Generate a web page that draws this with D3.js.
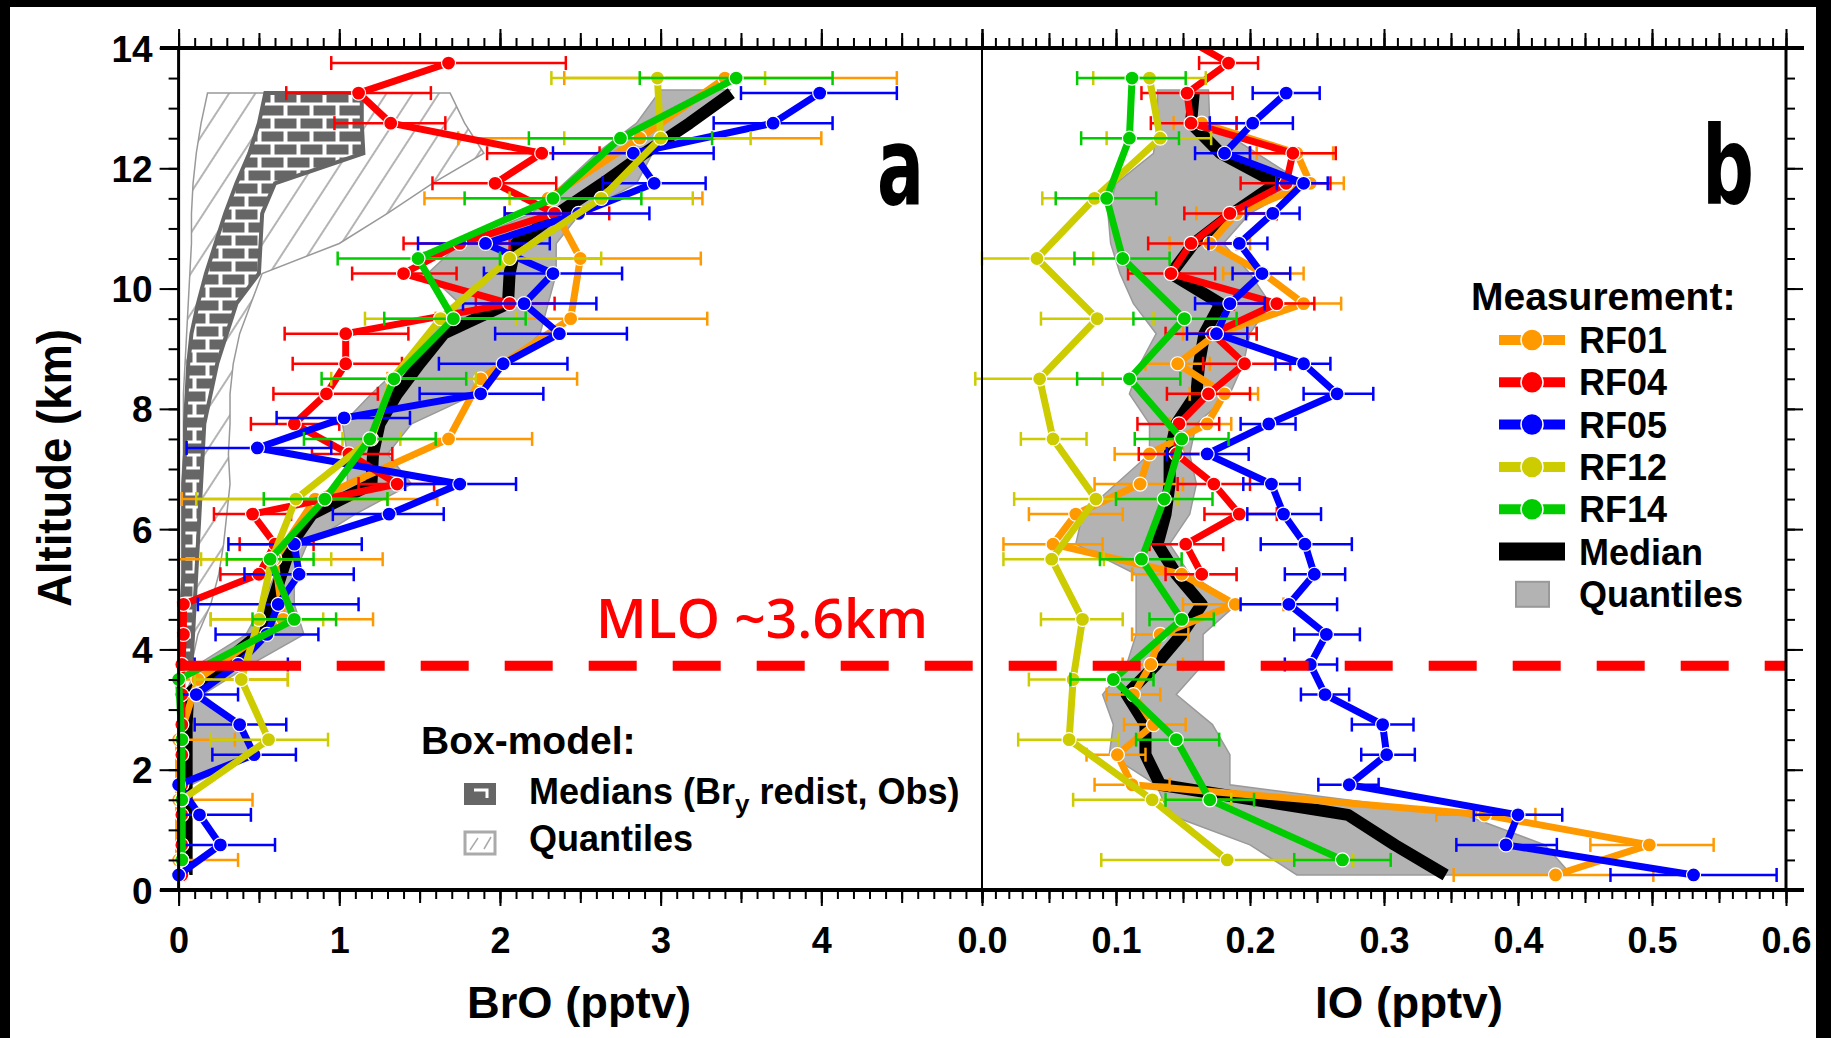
<!DOCTYPE html>
<html>
<head>
<meta charset="utf-8">
<script src="https://cdn.jsdelivr.net/npm/d3@7"></script>
<style>
  body { margin: 0; background: #000; }
  svg { display: block; }
</style>
</head>
<body>
<div id="chart"></div>
<script>
// ---- data: [altitude km, value, low, high] ----
const seriesNames = ["RF01", "RF04", "RF05", "RF12", "RF14"];
const seriesColors = ["#ff9900", "#ff0000", "#0000ff", "#cccc00", "#00cc00"];

const broRF01 = [
  [13.5, 3.40, 2.40, 4.47], [12.5, 2.87, 1.74, 4.00], [11.5, 2.30, 1.53, 3.26],
  [10.5, 2.50, 1.53, 3.25], [9.5, 2.44, 1.60, 3.29], [8.5, 1.88, 1.30, 2.48],
  [7.5, 1.68, 1.20, 2.20], [6.5, 0.85, 0.02, 1.61], [5.5, 0.60, 0.00, 1.27],
  [4.5, 0.65, 0.20, 1.21], [3.5, 0.12, 0.00, 0.68], [2.5, 0.00, 0.00, 0.35],
  [1.5, 0.00, 0.00, 0.46], [0.5, 0.00, 0.00, 0.37]
];
const broRF04 = [
  [13.75, 1.68, 0.95, 2.41], [13.25, 1.12, 0.67, 1.57], [12.75, 1.32, 0.97, 1.66],
  [12.25, 2.26, 1.92, 2.62], [11.75, 1.97, 1.58, 2.35], [11.25, 2.34, 2.03, 2.68],
  [10.75, 1.75, 1.40, 2.06], [10.25, 1.40, 1.08, 1.73], [9.75, 2.06, 1.85, 2.34],
  [9.25, 1.04, 0.66, 1.43], [8.75, 1.04, 0.71, 1.39], [8.25, 0.92, 0.59, 1.24],
  [7.75, 0.72, 0.45, 1.00], [7.25, 1.06, 0.83, 1.33], [6.75, 1.36, 1.12, 1.59],
  [6.25, 0.46, 0.22, 0.70], [5.75, 0.60, 0.38, 0.84], [5.25, 0.50, 0.26, 0.75],
  [4.75, 0.03, 0.03, 0.03], [4.25, 0.03, 0.03, 0.03], [3.75, 0.02, 0.02, 0.02],
  [3.25, 0.02, 0.02, 0.02], [2.75, 0.02, 0.02, 0.02], [2.25, 0.02, 0.02, 0.02],
  [1.75, 0.02, 0.02, 0.02], [1.25, 0.02, 0.02, 0.02], [0.75, 0.02, 0.02, 0.02],
  [0.25, 0.02, 0.02, 0.02]
];
const broRF05 = [
  [13.25, 3.99, 3.50, 4.47], [12.75, 3.70, 3.33, 4.07], [12.25, 2.83, 2.33, 3.33],
  [11.75, 2.96, 2.64, 3.28], [11.25, 2.49, 2.03, 2.93], [10.75, 1.91, 1.49, 2.31],
  [10.25, 2.33, 1.90, 2.76], [9.75, 2.15, 1.77, 2.60], [9.25, 2.37, 1.97, 2.79],
  [8.75, 2.02, 1.62, 2.42], [8.25, 1.88, 1.50, 2.27], [7.85, 1.03, 0.61, 1.44],
  [7.35, 0.49, 0.05, 0.95], [6.75, 1.75, 1.41, 2.10], [6.25, 1.31, 0.96, 1.65],
  [5.75, 0.72, 0.31, 1.14], [5.25, 0.75, 0.41, 1.09], [4.75, 0.62, 0.12, 1.12],
  [4.25, 0.55, 0.23, 0.87], [3.75, 0.37, 0.10, 0.68], [3.25, 0.11, 0.00, 0.37],
  [2.75, 0.38, 0.10, 0.67], [2.25, 0.47, 0.21, 0.73], [1.75, 0.00, 0.00, 0.00],
  [1.25, 0.13, 0.00, 0.45], [0.75, 0.26, 0.00, 0.60], [0.25, 0.00, 0.00, 0.00]
];
const broRF12 = [
  [13.5, 2.98, 2.32, 3.65], [12.5, 3.00, 2.40, 3.56], [11.5, 2.63, 2.06, 3.20],
  [10.5, 2.06, 1.50, 2.63], [9.5, 1.63, 1.16, 2.10], [8.5, 1.33, 0.95, 1.85],
  [7.5, 1.20, 1.02, 1.38], [6.5, 0.73, 0.11, 1.30], [5.5, 0.58, 0.14, 0.95],
  [4.5, 0.50, 0.20, 0.90], [3.5, 0.39, 0.10, 0.68], [2.5, 0.56, 0.20, 0.93],
  [1.5, 0.02, 0.02, 0.02], [0.5, 0.02, 0.02, 0.02]
];
const broRF14 = [
  [13.5, 3.47, 2.87, 4.07], [12.5, 2.75, 2.18, 3.32], [11.5, 2.33, 1.78, 2.88],
  [10.5, 1.49, 0.99, 2.00], [9.5, 1.71, 1.28, 2.16], [8.5, 1.34, 0.89, 1.79],
  [7.5, 1.19, 0.78, 1.60], [6.5, 0.91, 0.53, 1.30], [5.5, 0.57, 0.30, 0.84],
  [4.5, 0.72, 0.46, 0.98], [3.5, 0.00, 0.00, 0.00], [2.5, 0.02, 0.02, 0.02],
  [1.5, 0.02, 0.02, 0.02], [0.5, 0.02, 0.02, 0.02]
];

const ioRF01 = [
  [12.75, 0.164, 0.143, 0.190], [12.25, 0.235, 0.205, 0.262], [11.75, 0.245, 0.220, 0.270],
  [11.25, 0.190, 0.160, 0.220], [10.75, 0.170, 0.140, 0.200], [10.25, 0.210, 0.180, 0.240],
  [9.75, 0.240, 0.210, 0.268], [9.25, 0.175, 0.150, 0.205], [8.75, 0.146, 0.122, 0.170],
  [8.25, 0.181, 0.155, 0.206], [7.75, 0.168, 0.140, 0.186], [7.25, 0.125, 0.099, 0.150],
  [6.75, 0.118, 0.084, 0.150], [6.25, 0.070, 0.035, 0.105], [5.75, 0.053, 0.016, 0.090],
  [5.25, 0.149, 0.112, 0.190], [4.75, 0.189, 0.150, 0.225], [4.25, 0.133, 0.112, 0.154],
  [3.75, 0.126, 0.105, 0.150], [3.25, 0.113, 0.093, 0.133], [2.75, 0.128, 0.106, 0.152],
  [2.25, 0.101, 0.078, 0.122], [1.75, 0.112, 0.084, 0.140], [1.25, 0.375, 0.339, 0.413],
  [0.75, 0.498, 0.454, 0.546], [0.25, 0.428, 0.352, 0.501]
];
const ioRF04 = [
  [14.25, 0.145, 0.125, 0.165], [13.75, 0.184, 0.162, 0.206], [13.25, 0.153, 0.119, 0.187],
  [12.75, 0.156, 0.126, 0.190], [12.25, 0.232, 0.200, 0.264], [11.75, 0.227, 0.193, 0.260],
  [11.25, 0.185, 0.151, 0.220], [10.75, 0.156, 0.124, 0.190], [10.25, 0.141, 0.109, 0.174],
  [9.75, 0.220, 0.188, 0.248], [9.25, 0.172, 0.137, 0.205], [8.75, 0.196, 0.165, 0.230],
  [8.25, 0.169, 0.138, 0.200], [7.75, 0.147, 0.116, 0.177], [7.25, 0.145, 0.117, 0.175],
  [6.75, 0.173, 0.146, 0.200], [6.25, 0.192, 0.166, 0.220], [5.75, 0.152, 0.125, 0.180],
  [5.25, 0.164, 0.137, 0.190]
];
const ioRF05 = [
  [13.25, 0.227, 0.202, 0.252], [12.75, 0.202, 0.170, 0.232], [12.25, 0.181, 0.159, 0.200],
  [11.75, 0.240, 0.220, 0.258], [11.25, 0.217, 0.197, 0.237], [10.75, 0.192, 0.169, 0.213],
  [10.25, 0.209, 0.187, 0.230], [9.75, 0.185, 0.159, 0.211], [9.25, 0.175, 0.153, 0.198],
  [8.75, 0.240, 0.219, 0.260], [8.25, 0.265, 0.240, 0.292], [7.75, 0.214, 0.193, 0.234],
  [7.25, 0.168, 0.138, 0.199], [6.75, 0.216, 0.195, 0.237], [6.25, 0.225, 0.198, 0.253],
  [5.75, 0.241, 0.208, 0.276], [5.25, 0.248, 0.226, 0.271], [4.75, 0.229, 0.193, 0.265],
  [4.25, 0.257, 0.233, 0.282], [3.75, 0.245, 0.226, 0.265], [3.25, 0.256, 0.238, 0.274],
  [2.75, 0.299, 0.276, 0.322], [2.25, 0.302, 0.283, 0.323], [1.75, 0.274, 0.251, 0.296],
  [1.25, 0.400, 0.367, 0.433], [0.75, 0.391, 0.354, 0.429], [0.25, 0.531, 0.469, 0.593]
];
const ioRF12 = [
  [13.5, 0.125, 0.083, 0.167], [12.5, 0.133, 0.093, 0.171], [11.5, 0.084, 0.045, 0.130],
  [10.5, 0.041, 0.000, 0.083], [9.5, 0.086, 0.044, 0.128], [8.5, 0.043, -0.005, 0.090],
  [7.5, 0.053, 0.029, 0.078], [6.5, 0.085, 0.024, 0.146], [5.5, 0.052, 0.016, 0.091],
  [4.5, 0.075, 0.044, 0.105], [3.5, 0.068, 0.035, 0.100], [2.5, 0.065, 0.027, 0.102],
  [1.5, 0.127, 0.068, 0.186], [0.5, 0.183, 0.089, 0.277]
];
const ioRF14 = [
  [13.5, 0.112, 0.071, 0.152], [12.5, 0.110, 0.074, 0.147], [11.5, 0.093, 0.055, 0.130],
  [10.5, 0.105, 0.069, 0.140], [9.5, 0.151, 0.113, 0.190], [8.5, 0.110, 0.071, 0.148],
  [7.5, 0.149, 0.114, 0.184], [6.5, 0.136, 0.100, 0.172], [5.5, 0.119, 0.088, 0.149],
  [4.5, 0.149, 0.125, 0.173], [3.5, 0.098, 0.066, 0.128], [2.5, 0.145, 0.115, 0.177],
  [1.5, 0.170, 0.137, 0.203], [0.5, 0.269, 0.233, 0.305]
];

// medians [alt, value] and quantile bands [alt, low, high]
const broMedian = [
  [13.25, 3.44], [12.75, 3.18], [12.25, 2.90], [11.75, 2.64], [11.25, 2.36], [10.75, 2.10],
  [10.25, 2.06], [9.75, 2.05], [9.25, 1.65], [8.75, 1.50], [8.25, 1.36], [7.75, 1.25],
  [7.25, 1.21], [6.75, 1.20], [6.25, 0.83], [5.75, 0.70], [5.25, 0.64], [4.75, 0.58],
  [4.25, 0.50], [3.75, 0.27], [3.25, 0.06], [2.75, 0.05], [2.25, 0.05], [1.75, 0.05],
  [1.25, 0.05], [0.75, 0.05], [0.25, 0.05]
];
const broQuant = [
  [13.3, 3.00, 3.43], [12.75, 2.85, 3.20], [12.25, 2.60, 2.95], [11.75, 2.40, 2.85],
  [11.25, 2.20, 2.50], [10.75, 1.75, 2.35], [10.25, 1.55, 2.35], [9.75, 1.75, 2.30],
  [9.25, 1.55, 2.25], [8.75, 1.40, 2.05], [8.25, 1.20, 1.85], [7.75, 1.02, 1.45],
  [7.25, 1.05, 1.30], [6.75, 1.05, 1.45], [6.25, 0.78, 1.10], [5.75, 0.66, 0.80],
  [5.25, 0.60, 0.72], [4.75, 0.52, 0.72], [4.25, 0.42, 0.78], [3.75, 0.12, 0.45],
  [3.25, 0.04, 0.15], [2.75, 0.04, 0.38], [2.25, 0.04, 0.45], [1.75, 0.03, 0.08],
  [1.25, 0.03, 0.06], [0.75, 0.03, 0.06], [0.25, 0.03, 0.06]
];
const ioMedian = [
  [13.25, 0.158], [12.75, 0.156], [12.25, 0.178], [11.75, 0.220], [11.25, 0.187],
  [10.75, 0.158], [10.25, 0.141], [9.75, 0.178], [9.25, 0.166], [8.75, 0.162],
  [8.25, 0.160], [7.75, 0.145], [7.25, 0.140], [6.75, 0.140], [6.25, 0.137],
  [5.75, 0.131], [5.25, 0.145], [4.75, 0.164], [4.25, 0.149], [3.75, 0.130],
  [3.25, 0.108], [2.75, 0.122], [2.25, 0.122], [1.75, 0.133], [1.25, 0.273],
  [0.75, 0.308], [0.25, 0.346]
];
const ioQuant = [
  [13.3, 0.131, 0.169], [12.75, 0.131, 0.170], [12.25, 0.128, 0.205], [11.75, 0.100, 0.240],
  [11.25, 0.094, 0.200], [10.75, 0.096, 0.180], [10.25, 0.103, 0.200], [9.75, 0.113, 0.215],
  [9.25, 0.130, 0.200], [8.75, 0.118, 0.195], [8.25, 0.110, 0.185], [7.75, 0.125, 0.160],
  [7.25, 0.125, 0.155], [6.75, 0.100, 0.160], [6.25, 0.075, 0.155], [5.75, 0.070, 0.140],
  [5.25, 0.115, 0.155], [4.75, 0.115, 0.190], [4.25, 0.115, 0.165], [3.75, 0.108, 0.165],
  [3.25, 0.090, 0.145], [2.75, 0.098, 0.172], [2.25, 0.095, 0.185], [1.75, 0.130, 0.185],
  [1.25, 0.140, 0.360], [0.75, 0.200, 0.420], [0.25, 0.235, 0.440]
];

// box-model (BrO): quantile range and median range [alt, low, high]
const boxQuant = [
  [13.25, 0.18, 1.69], [12.75, 0.14, 1.78], [12.25, 0.11, 1.90], [11.75, 0.09, 1.58],
  [11.25, 0.08, 1.30], [10.75, 0.08, 1.00], [10.25, 0.07, 0.52], [9.75, 0.06, 0.45],
  [9.25, 0.05, 0.38], [8.75, 0.04, 0.34], [8.25, 0.03, 0.32], [7.75, 0.03, 0.32],
  [7.25, 0.03, 0.31], [6.75, 0.02, 0.32], [6.25, 0.02, 0.30], [5.75, 0.02, 0.28],
  [5.25, 0.02, 0.25], [4.75, 0.02, 0.20], [4.25, 0.02, 0.12], [3.75, 0.02, 0.08]
];
const boxMedian = [
  [13.25, 0.54, 1.14], [12.75, 0.50, 1.14], [12.25, 0.44, 1.15], [11.75, 0.36, 0.60],
  [11.25, 0.29, 0.52], [10.75, 0.23, 0.51], [10.25, 0.17, 0.50], [9.75, 0.12, 0.36],
  [9.25, 0.08, 0.30], [8.75, 0.06, 0.24], [8.25, 0.05, 0.20], [7.75, 0.04, 0.16],
  [7.25, 0.04, 0.15], [6.75, 0.03, 0.14], [6.25, 0.03, 0.13], [5.75, 0.03, 0.12],
  [5.25, 0.03, 0.11], [4.75, 0.02, 0.10], [4.25, 0.02, 0.09], [3.75, 0.02, 0.08]
];

const mloAlt = 3.73;
const altTicks = [0, 2, 4, 6, 8, 10, 12, 14];
const broTicks = [0, 1, 2, 3, 4];
const ioTicks = [0, 0.1, 0.2, 0.3, 0.4, 0.5, 0.6];

// ---- layout ----
const W = 1831, H = 1038;
const FONT = "'Liberation Sans', Arial, Helvetica, sans-serif";
const NARROW = "'Liberation Sans Narrow', 'Arial Narrow', 'DejaVu Sans Condensed', sans-serif";

const svg = d3.select("#chart").append("svg").attr("width", W).attr("height", H);
svg.append("rect").attr("width", W).attr("height", H).attr("fill", "#000");
svg.append("rect").attr("x", 10).attr("y", 7).attr("width", 1806).attr("height", H - 7).attr("fill", "#fff");

const y = d3.scaleLinear().domain([0, 14]).range([890, 48]);
const xA = d3.scaleLinear().domain([0, 5]).range([178.6, 982]);
const xB = d3.scaleLinear().domain([0, 0.6]).range([982, 1786]);

const defs = svg.append("defs");
defs.append("clipPath").attr("id", "plotClip")
  .append("rect").attr("x", 160).attr("y", 48).attr("width", 1640).attr("height", 842);

let hatch = defs.append("pattern").attr("id", "hatch")
  .attr("patternUnits", "userSpaceOnUse").attr("width", 22).attr("height", 22)
  .attr("patternTransform", "rotate(33)");
hatch.append("rect").attr("width", 22).attr("height", 22).attr("fill", "#fff");
hatch.append("line").attr("x1", 1).attr("x2", 1).attr("y1", 0).attr("y2", 22)
  .attr("stroke", "#8c8c8c").attr("stroke-width", 1.3);

let brick = defs.append("pattern").attr("id", "brick")
  .attr("patternUnits", "userSpaceOnUse").attr("width", 26).attr("height", 26);
brick.append("rect").attr("width", 26).attr("height", 26).attr("fill", "#fff");
[[1.5, 1.5], [-11.5, 14.5], [14.5, 14.5]].forEach(p => {
  brick.append("rect").attr("x", p[0]).attr("y", p[1]).attr("width", 22).attr("height", 10).attr("fill", "#666");
});

const plot = svg.append("g").attr("clip-path", "url(#plotClip)");

// box-model areas (panel a)
const bandArea = x => d3.area().y(d => y(d[0])).x0(d => x(d[1])).x1(d => x(d[2]));
plot.append("path").datum(boxQuant).attr("d", bandArea(xA))
  .attr("fill", "url(#hatch)").attr("stroke", "#999").attr("stroke-width", 1.5);
plot.append("path").datum(boxMedian).attr("d", bandArea(xA))
  .attr("fill", "url(#brick)").attr("stroke", "#666").attr("stroke-width", 4);

function drawPanel(x, quant, median, seriesList) {
  const g = plot.append("g");
  g.append("path").datum(quant).attr("d", bandArea(x))
    .attr("fill", "#b3b3b3").attr("stroke", "#9a9a9a").attr("stroke-width", 1.5);
  g.append("path").datum(median)
    .attr("d", d3.line().x(d => x(d[1])).y(d => y(d[0])))
    .attr("fill", "none").attr("stroke", "#000").attr("stroke-width", 12)
    .attr("stroke-linejoin", "round");

  seriesList.forEach((data, i) => {
    const col = seriesColors[i];
    const s = g.append("g");
    const bars = data.filter(d => d[3] - d[2] > 0.0001);
    const eb = s.append("g").attr("stroke", col).attr("stroke-width", 2.5);
    eb.selectAll(null).data(bars).enter().append("line")
      .attr("x1", d => x(d[2])).attr("x2", d => x(d[3]))
      .attr("y1", d => y(d[0])).attr("y2", d => y(d[0]));
    eb.selectAll(null).data(bars).enter().append("line")
      .attr("x1", d => x(d[2])).attr("x2", d => x(d[2]))
      .attr("y1", d => y(d[0]) - 7).attr("y2", d => y(d[0]) + 7);
    eb.selectAll(null).data(bars).enter().append("line")
      .attr("x1", d => x(d[3])).attr("x2", d => x(d[3]))
      .attr("y1", d => y(d[0]) - 7).attr("y2", d => y(d[0]) + 7);
    s.append("path").datum(data)
      .attr("d", d3.line().x(d => x(d[1])).y(d => y(d[0])))
      .attr("fill", "none").attr("stroke", col).attr("stroke-width", 7)
      .attr("stroke-linejoin", "round");
    s.selectAll(null).data(data).enter().append("circle")
      .attr("cx", d => x(d[1])).attr("cy", d => y(d[0])).attr("r", 7)
      .attr("fill", col).attr("stroke", "#fff").attr("stroke-width", 1.2);
  });
}

drawPanel(xA, broQuant, broMedian, [broRF01, broRF04, broRF05, broRF12, broRF14]);
drawPanel(xB, ioQuant, ioMedian, [ioRF01, ioRF04, ioRF05, ioRF12, ioRF14]);

// MLO line
const mloY = y(mloAlt);
svg.append("line").attr("x1", xA(0)).attr("x2", 301).attr("y1", mloY).attr("y2", mloY)
  .attr("stroke", "#ff0000").attr("stroke-width", 10);
svg.append("line").attr("x1", 336.7).attr("x2", xB(0.6)).attr("y1", mloY).attr("y2", mloY)
  .attr("stroke", "#ff0000").attr("stroke-width", 10).attr("stroke-dasharray", "48,36");
svg.append("text").attr("x", 596).attr("y", 638)
  .attr("font-family", "'Open Sans', 'Noto Sans', sans-serif").attr("font-weight", 600)
  .attr("font-size", 54).attr("fill", "#ff0000")
  .attr("textLength", 332).attr("lengthAdjust", "spacingAndGlyphs")
  .text("MLO ~3.6km");

// ---- axes ----
function tickSet(axisFn, scale, vals, size, fmt, tx, ty) {
  const a = axisFn(scale).tickValues(vals).tickSize(size).tickSizeOuter(0)
    .tickFormat(fmt || (() => ""));
  const sel = svg.append("g").attr("transform", `translate(${tx},${ty})`).call(a);
  sel.select(".domain").remove();
  sel.selectAll(".tick line").attr("stroke", "#000").attr("stroke-width", 2);
  sel.selectAll(".tick text").attr("font-family", FONT).attr("font-weight", "bold")
    .attr("font-size", 36).attr("fill", "#000");
  return sel;
}
const rng = (a, b, s) => d3.range(Math.round(a / s), Math.round(b / s) + 1).map(k => +(k * s).toFixed(4));

// bottom
tickSet(d3.axisBottom, xA, rng(0, 5, 0.1), 9, null, 0, 890);
tickSet(d3.axisBottom, xA, rng(0, 5, 0.5), 13, null, 0, 890);
tickSet(d3.axisBottom, xA, broTicks, 16, d3.format("d"), 0, 890)
  .selectAll(".tick text").attr("y", 63).attr("dy", 0);
tickSet(d3.axisBottom, xB, rng(0, 0.6, 0.01), 9, null, 0, 890);
tickSet(d3.axisBottom, xB, rng(0, 0.6, 0.05), 13, null, 0, 890);
tickSet(d3.axisBottom, xB, ioTicks, 16, d3.format(".1f"), 0, 890)
  .selectAll(".tick text").attr("y", 63).attr("dy", 0);
// top
tickSet(d3.axisTop, xA, rng(0, 5, 0.1), 10, null, 0, 48);
tickSet(d3.axisTop, xA, rng(0, 5, 0.5), 15, null, 0, 48);
tickSet(d3.axisTop, xA, rng(0, 5, 1), 19, null, 0, 48);
tickSet(d3.axisTop, xB, rng(0, 0.6, 0.01), 10, null, 0, 48);
tickSet(d3.axisTop, xB, rng(0, 0.6, 0.05), 15, null, 0, 48);
tickSet(d3.axisTop, xB, rng(0, 0.6, 0.1), 19, null, 0, 48);
// left
tickSet(d3.axisLeft, y, rng(0, 14, 0.5), 10, null, xA(0), 0);
tickSet(d3.axisLeft, y, altTicks, 19, d3.format("d"), xA(0), 0)
  .selectAll(".tick text").attr("x", -26).attr("dy", 13).attr("font-size", 37);
// right
tickSet(d3.axisRight, y, rng(0, 14, 0.5), 9, null, xB(0.6), 0);
tickSet(d3.axisRight, y, altTicks, 17, null, xB(0.6), 0);

// frame lines
const frame = svg.append("g").attr("stroke", "#000");
frame.append("line").attr("x1", 160).attr("x2", 1804).attr("y1", y(14)).attr("y2", y(14)).attr("stroke-width", 4);
frame.append("line").attr("x1", 160).attr("x2", 1804).attr("y1", y(0)).attr("y2", y(0)).attr("stroke-width", 4);
frame.append("line").attr("x1", xA(0)).attr("x2", xA(0)).attr("y1", y(14)).attr("y2", y(0)).attr("stroke-width", 3);
frame.append("line").attr("x1", xB(0)).attr("x2", xB(0)).attr("y1", y(14)).attr("y2", y(0)).attr("stroke-width", 2);
frame.append("line").attr("x1", xB(0.6)).attr("x2", xB(0.6)).attr("y1", y(14)).attr("y2", y(0)).attr("stroke-width", 3);

// axis titles
svg.append("text").attr("transform", "translate(71,468) rotate(-90)")
  .attr("text-anchor", "middle").attr("font-family", FONT).attr("font-weight", "bold")
  .attr("font-size", 48).attr("textLength", 278).attr("lengthAdjust", "spacingAndGlyphs")
  .text("Altitude (km)");
svg.append("text").attr("x", 579).attr("y", 1018).attr("text-anchor", "middle")
  .attr("font-family", FONT).attr("font-weight", "bold").attr("font-size", 44)
  .attr("textLength", 224).attr("lengthAdjust", "spacingAndGlyphs").text("BrO (pptv)");
svg.append("text").attr("x", 1409).attr("y", 1018).attr("text-anchor", "middle")
  .attr("font-family", FONT).attr("font-weight", "bold").attr("font-size", 44)
  .attr("textLength", 188).attr("lengthAdjust", "spacingAndGlyphs").text("IO (pptv)");

// panel letters
svg.append("text").attr("x", 877).attr("y", 204).attr("font-family", NARROW)
  .attr("font-weight", "bold").attr("font-size", 108)
  .attr("textLength", 47).attr("lengthAdjust", "spacingAndGlyphs").text("a");
svg.append("text").attr("x", 1702).attr("y", 204).attr("font-family", NARROW)
  .attr("font-weight", "bold").attr("font-size", 108)
  .attr("textLength", 52).attr("lengthAdjust", "spacingAndGlyphs").text("b");

// ---- legend b ----
const legB = svg.append("g").attr("font-family", FONT).attr("font-weight", "bold").attr("fill", "#000");
legB.append("text").attr("x", 1471).attr("y", 310).attr("font-size", 39).text("Measurement:");
seriesNames.forEach((name, i) => {
  const cy = 340 + i * 42.3;
  legB.append("line").attr("x1", 1499).attr("x2", 1565).attr("y1", cy).attr("y2", cy)
    .attr("stroke", seriesColors[i]).attr("stroke-width", 10);
  legB.append("circle").attr("cx", 1532).attr("cy", cy).attr("r", 11)
    .attr("fill", seriesColors[i]).attr("stroke", "#fff").attr("stroke-width", 1.5);
  legB.append("text").attr("x", 1579).attr("y", cy + 13).attr("font-size", 36).text(name);
});
const medY = 340 + 5 * 42.3, qY = 340 + 6 * 42.3;
legB.append("rect").attr("x", 1499).attr("y", medY - 9).attr("width", 66).attr("height", 18).attr("fill", "#000");
legB.append("text").attr("x", 1579).attr("y", medY + 13).attr("font-size", 36).text("Median");
legB.append("rect").attr("x", 1516).attr("y", qY - 12).attr("width", 33).attr("height", 25)
  .attr("fill", "#b3b3b3").attr("stroke", "#999").attr("stroke-width", 2);
legB.append("text").attr("x", 1579).attr("y", qY + 13).attr("font-size", 36).text("Quantiles");

// ---- legend a ----
const legA = svg.append("g").attr("font-family", FONT).attr("font-weight", "bold").attr("fill", "#000");
legA.append("text").attr("x", 421).attr("y", 754).attr("font-size", 39).text("Box-model:");
legA.append("rect").attr("x", 464).attr("y", 783).attr("width", 32).attr("height", 22).attr("fill", "#666");
legA.append("path").attr("d", "M474,790 H487 V798").attr("fill", "none").attr("stroke", "#fff").attr("stroke-width", 3);
const medTxt = legA.append("text").attr("x", 529).attr("y", 804).attr("font-size", 36);
medTxt.append("tspan").text("Medians (Br");
medTxt.append("tspan").attr("dy", 9).attr("font-size", 26).text("y");
medTxt.append("tspan").attr("dy", -9).text(" redist, Obs)");
legA.append("rect").attr("x", 465).attr("y", 832).attr("width", 30).attr("height", 22)
  .attr("fill", "#fff").attr("stroke", "#aaa").attr("stroke-width", 3);
legA.append("path").attr("d", "M470,850 L478,838 M484,849 L491,837").attr("stroke", "#aaa").attr("stroke-width", 1.5);
legA.append("text").attr("x", 529).attr("y", 851).attr("font-size", 36).text("Quantiles");
</script>
</body>
</html>
